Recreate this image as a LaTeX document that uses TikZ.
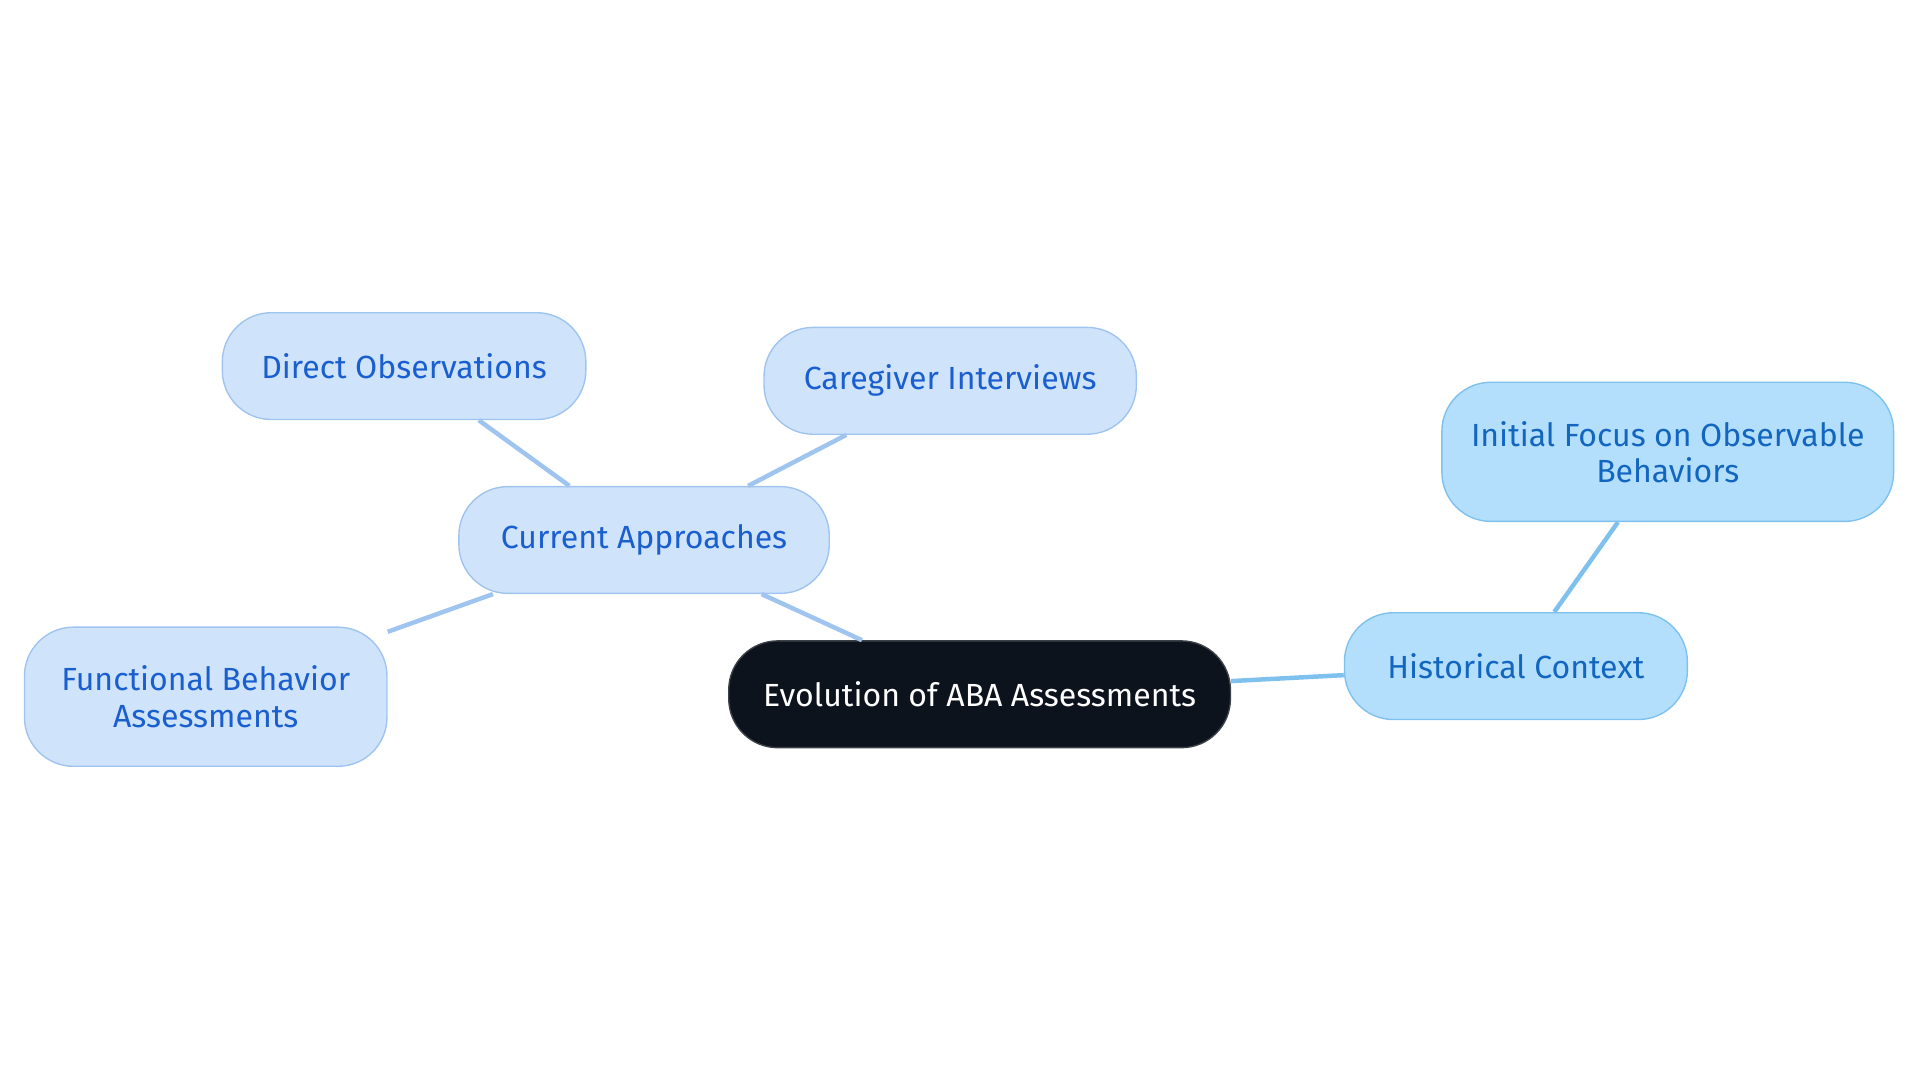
\documentclass[tikz,border=0pt]{standalone}
\usepackage{fontspec}
\setmainfont{Fira Sans}
\usepackage{xcolor}
\usetikzlibrary{positioning}
\definecolor{rootfill}{HTML}{0D131C}
\definecolor{cafill}{HTML}{CFE3FB}
\definecolor{cadraw}{HTML}{9FC4F0}
\definecolor{catext}{HTML}{1A5FCF}
\definecolor{hcfill}{HTML}{B3DFFC}
\definecolor{hcdraw}{HTML}{7EC0EE}
\definecolor{hctext}{HTML}{1366C0}
\tikzset{
  idea/.style={rectangle, rounded corners=0.5cm, minimum height=1.09cm, align=center, font=\fontsize{9.3}{10.5}\selectfont, inner sep=2pt},
  rootidea/.style={idea, fill=rootfill, draw=rootfill!80, text=white},
  caidea/.style={idea, fill=cafill, draw=cadraw, text=catext},
  hcidea/.style={idea, fill=hcfill, draw=hcdraw, text=hctext},
  calink/.style={draw=cadraw, line width=1.3pt},
  hclink/.style={draw=hcdraw, line width=1.3pt}
}
\begin{document}
\begin{tikzpicture}[x=0.0125cm, y=-0.0125cm]
	\useasboundingbox (0,0) rectangle (1568,884);
	\node[rootidea, minimum width=5.12cm] (root) at (800,567) {Evolution of ABA Assessments};
	\node[caidea, minimum width=3.78cm] (cur) at (526,441) {Current Approaches};
	\node[caidea, minimum width=3.71cm] (obs) at (330,299) {Direct Observations};
	\node[caidea, minimum width=3.8cm] (care) at (776,311) {Caregiver Interviews};
	\node[caidea, minimum width=3.7cm, minimum height=1.42cm] (fba) at (168,569) {Functional Behavior\\Assessments};
	\node[hcidea, minimum width=3.5cm] (hist) at (1238,544) {Historical Context};
	\node[hcidea, minimum width=4.61cm, minimum height=1.42cm] (init) at (1362,369) {Initial Focus on Observable\\Behaviors};

	\path[calink] (root) -- (cur);
	\path[calink] (cur) -- (obs);
	\path[calink] (cur) -- (care);
	\path[calink] (cur) -- (fba);
	\path[hclink] (root) -- (hist);
	\path[hclink] (hist) -- (init);
\end{tikzpicture}
\end{document}
